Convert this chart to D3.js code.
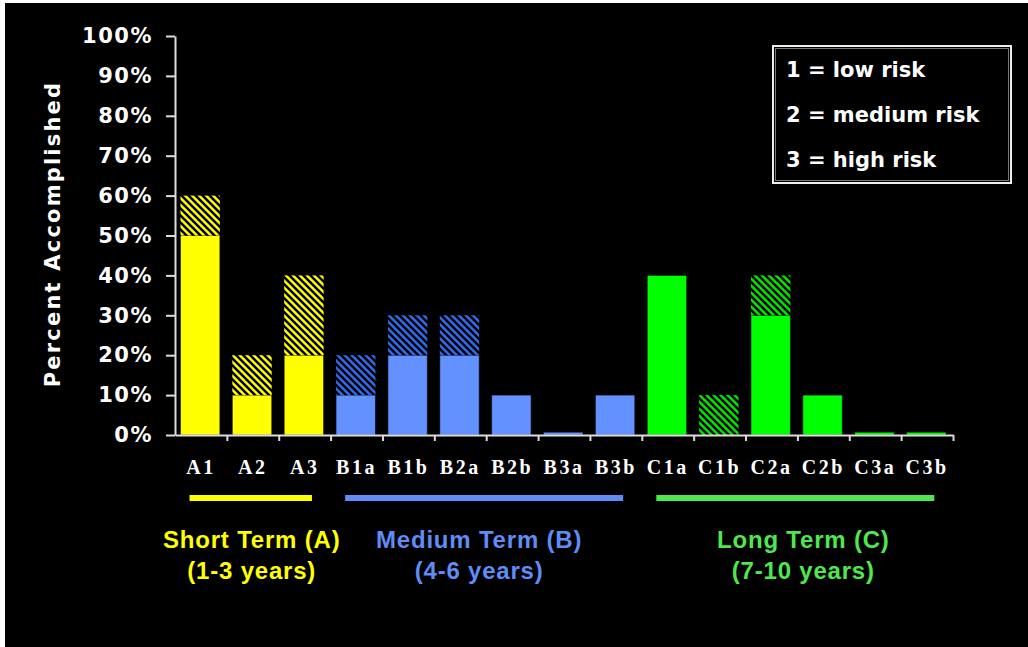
<!DOCTYPE html>
<html><head><meta charset="utf-8">
<script src="https://cdn.jsdelivr.net/npm/d3@7"></script>
<style>body{margin:0;background:#fff;} svg{display:block;}</style>
</head><body><svg id="c" width="1028" height="647"></svg>
<script>
const categories = ["A1","A2","A3","B1a","B1b","B2a","B2b","B3a","B3b","C1a","C1b","C2a","C2b","C3a","C3b"];
const groupOf    = ["A","A","A","B","B","B","B","B","B","C","C","C","C","C","C"];
const solidValues = [50,10,20,10,20,20,10,0.7,10,40,0,30,10,0.7,0.7];
const totalValues = [60,20,40,20,30,30,10,0.7,10,40,10,40,10,0.7,0.7];
const yTicks = [0,10,20,30,40,50,60,70,80,90,100];
const groups = ["A","B","C"];
const groupTitles = ["Short Term (A)","Medium Term (B)","Long Term (C)"];
const groupSubtitles = ["(1-3 years)","(4-6 years)","(7-10 years)"];
const legendItems = ["1 = low risk","2 = medium risk","3 = high risk"];

const solidColor = {A:"#ffff00", B:"#6391ff", C:"#00ff00"};
const hatchColor = {A:"#ffff00", B:"#2f6bef", C:"#00e600"};
const labelColor = {A:"#ffff00", B:"#5f8cf5", C:"#4ee84e"};
const labelShift = {A:1, B:-5, C:8};

const svg = d3.select("#c");
svg.append("rect").attr("x",5).attr("y",3).attr("width",1023).attr("height",644).attr("fill","#000");

const defs = svg.append("defs");
groups.forEach(g=>{
  const p = defs.append("pattern").attr("id","h"+g).attr("patternUnits","userSpaceOnUse")
    .attr("width",7).attr("height",7);
  p.append("rect").attr("width",7).attr("height",7).attr("fill",hatchColor[g]);
  p.append("path").attr("d","M-1,-1L8,8M-1,6L1,8M6,-1L8,1").attr("stroke","#000").attr("stroke-width",2.5);
});

const xs = d3.scaleBand().domain(categories).range([175,953]).padding(0);
const xi = d3.scaleLinear().domain([0,categories.length]).range([175,953]);
const y = d3.scaleLinear().domain([0,100]).range([435,36]);
const step = xs.step();
const barX = c => xs(c) + step*0.105;
const barW = step*0.76;

const data = categories.map((c,i)=>({c, g:groupOf[i], s:solidValues[i], t:totalValues[i]}));

// solid bars
svg.append("g").selectAll("rect").data(data.filter(d=>d.s>0)).join("rect")
  .attr("x",d=>barX(d.c)).attr("width",barW)
  .attr("y",d=>y(d.s)).attr("height",d=>y(0)-y(d.s))
  .attr("fill",d=>solidColor[d.g]).attr("stroke","rgba(0,0,0,0.55)").attr("stroke-width",1);
// hatched segments
svg.append("g").selectAll("rect").data(data.filter(d=>d.t>d.s)).join("rect")
  .attr("x",d=>barX(d.c)).attr("width",barW)
  .attr("y",d=>y(d.t)).attr("height",d=>y(d.s)-y(d.t))
  .attr("fill",d=>"url(#h"+d.g+")");

// y axis
const ya = svg.append("g").attr("transform","translate(175,0)")
  .call(d3.axisLeft(y).tickValues(yTicks).tickFormat(d=>d+"%").tickSize(9).tickSizeOuter(0).tickPadding(13));
ya.select(".domain").attr("stroke","#ddd").attr("stroke-width",2);
ya.selectAll(".tick line").attr("stroke","#ddd").attr("stroke-width",2);
ya.selectAll(".tick text").attr("fill","#fff").attr("font-family","DejaVu Sans").attr("font-weight","bold")
  .attr("font-size",21).attr("letter-spacing",1.5);

// x axis (ticks at boundaries)
const xa = svg.append("g").attr("transform","translate(0,435)")
  .call(d3.axisBottom(xi).tickValues(d3.range(1,categories.length+1)).tickFormat("").tickSize(6).tickSizeOuter(0));
xa.select(".domain").attr("stroke","#ddd").attr("stroke-width",2);
xa.selectAll(".tick line").attr("stroke","#ddd").attr("stroke-width",2);
const xl = svg.append("g").attr("transform","translate(0,435)")
  .call(d3.axisBottom(xs).tickSize(0).tickPadding(25));
xl.select(".domain").remove();
xl.selectAll(".tick text").attr("fill","#fff").attr("font-family","Liberation Serif").attr("font-weight","bold")
  .attr("font-size",20).attr("letter-spacing",2.5).attr("dy","0.71em");

// y title
svg.append("text").attr("transform","translate(60,234) rotate(-90)").attr("text-anchor","middle")
  .attr("fill","#fff").attr("font-family","DejaVu Sans").attr("font-weight","bold").attr("font-size",21)
  .attr("letter-spacing",2.2).text("Percent Accomplished");

// group lines and labels
groups.forEach((g,gi)=>{
  const cats = categories.filter((c,i)=>groupOf[i]===g);
  const x0 = xs(cats[0]) + step*0.28;
  const x1 = xs(cats[cats.length-1]) + step*0.64;
  svg.append("line").attr("x1",x0).attr("x2",x1).attr("y1",498).attr("y2",498)
    .attr("stroke",labelColor[g]).attr("stroke-width",6);
  const cx = (x0+x1)/2 + labelShift[g];
  const t = svg.append("text").attr("text-anchor","middle").attr("fill",labelColor[g])
    .attr("font-family","Liberation Sans").attr("font-weight","bold").attr("font-size",24)
    .attr("letter-spacing",0.8);
  t.append("tspan").attr("x",cx).attr("y",548).text(groupTitles[gi]);
  t.append("tspan").attr("x",cx).attr("y",579).text(groupSubtitles[gi]);
});

// legend
const lg = svg.append("g");
lg.append("rect").attr("x",773).attr("y",46).attr("width",238).attr("height",137)
  .attr("fill","#000").attr("stroke","#eee").attr("stroke-width",2);
lg.append("rect").attr("x",775.5).attr("y",48.5).attr("width",233).attr("height",132)
  .attr("fill","none").attr("stroke","#777").attr("stroke-width",1);
lg.selectAll("text").data(legendItems).join("text")
  .attr("x",786).attr("y",(d,i)=>77+i*45).attr("fill","#fff")
  .attr("font-family","DejaVu Sans").attr("font-weight","bold").attr("font-size",21).text(d=>d);
</script></body></html>
